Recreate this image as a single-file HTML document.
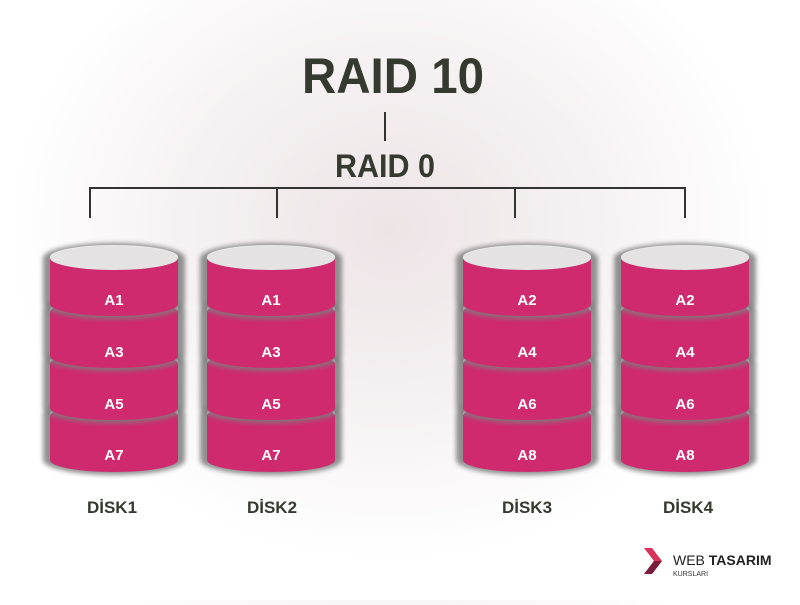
<!DOCTYPE html>
<html><head><meta charset="utf-8"><style>
html,body{margin:0;padding:0}
body{width:800px;height:600px;overflow:hidden;background:radial-gradient(ellipse 380px 330px at 390px 230px,#ede4e6 0%,#f6f2f3 55%,#fff 100%);font-family:"Liberation Sans",sans-serif}
</style></head><body>
<svg width="800" height="600" viewBox="0 0 800 600" xmlns="http://www.w3.org/2000/svg" font-family="Liberation Sans, sans-serif">
<defs>
<filter id="b" x="-20%" y="-30%" width="140%" height="160%"><feGaussianBlur stdDeviation="2.5"/></filter>
<g id="seg">
  <g filter="url(#b)" fill="#7e7e7e" opacity="0.85">
    <ellipse cx="0" cy="0" rx="71" ry="15"/>
    <rect x="-71" y="0" width="142" height="46"/>
    <ellipse cx="0" cy="46" rx="71" ry="15"/>
  </g>
  <ellipse cx="0" cy="-1" rx="64" ry="12" fill="#ecebeb"/>
  <ellipse cx="0" cy="2" rx="64" ry="12" fill="#cf2a6e"/>
  <rect x="-64" y="2" width="128" height="44" fill="#cf2a6e"/>
  <ellipse cx="0" cy="46" rx="64" ry="12" fill="#cf2a6e"/>
</g>
<g id="disk">
  <use href="#seg" transform="translate(0,414)"/>
  <use href="#seg" transform="translate(0,362)"/>
  <use href="#seg" transform="translate(0,310)"/>
  <use href="#seg" transform="translate(0,258)"/>
  <ellipse cx="0" cy="258" rx="64" ry="12" fill="#e4e2e3"/>
</g>
</defs>
<text x="393" y="93" text-anchor="middle" font-size="50" font-weight="bold" fill="#343a30" textLength="182" lengthAdjust="spacingAndGlyphs">RAID 10</text>
<line x1="385" y1="112" x2="385" y2="141" stroke="#333" stroke-width="2"/>
<text x="385" y="177" text-anchor="middle" font-size="32" font-weight="bold" fill="#343a30" textLength="100" lengthAdjust="spacingAndGlyphs">RAID 0</text>
<path d="M90 218V188H685V218M277 188V218M515 188V218" fill="none" stroke="#333" stroke-width="2"/>
<g transform="translate(114,0)"><use href="#disk"/></g>
<g transform="translate(271,0)"><use href="#disk"/></g>
<g transform="translate(527,0)"><use href="#disk"/></g>
<g transform="translate(685,0)"><use href="#disk"/></g>
<g font-size="15" font-weight="bold" fill="#fff" text-anchor="middle">
<text x="114" y="305">A1</text><text x="114" y="357">A3</text><text x="114" y="409">A5</text><text x="114" y="460">A7</text>
<text x="271" y="305">A1</text><text x="271" y="357">A3</text><text x="271" y="409">A5</text><text x="271" y="460">A7</text>
<text x="527" y="305">A2</text><text x="527" y="357">A4</text><text x="527" y="409">A6</text><text x="527" y="460">A8</text>
<text x="685" y="305">A2</text><text x="685" y="357">A4</text><text x="685" y="409">A6</text><text x="685" y="460">A8</text>
</g>
<g font-size="17" font-weight="bold" fill="#343a30" text-anchor="middle">
<text x="112" y="513">DİSK1</text><text x="272" y="513">DİSK2</text><text x="527" y="513">DİSK3</text><text x="688" y="513">DİSK4</text>
</g>
<path d="M644 548l8 0l10 13l-10 13l-8 0l10-13z" fill="#d6345e"/>
<path d="M654 561l8 0l-10 13l-8 0z" fill="#7a1d3a"/>
<text x="673" y="565" font-size="14" fill="#222">WEB <tspan font-weight="bold">TASARIM</tspan></text>
<text x="673" y="576" font-size="7" fill="#333">KURSLARI</text>
</svg>
</body></html>
